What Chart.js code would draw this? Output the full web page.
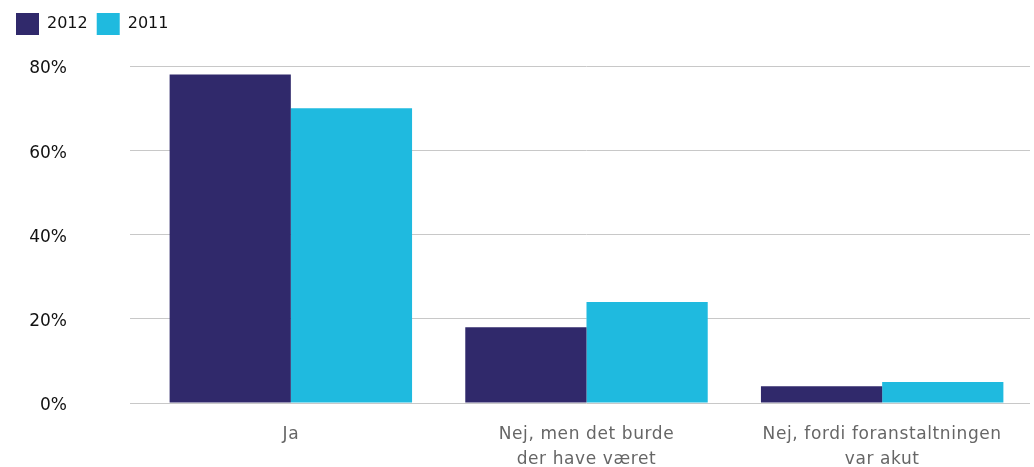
<!DOCTYPE html>
<html>
<head>
<meta charset="utf-8">
<script src="https://cdn.jsdelivr.net/npm/chart.js@4/dist/chart.umd.min.js"></script>
<style>
  html, body { margin: 0; padding: 0; background: #fff; }
  #wrap { width: 1034px; height: 467px; position: relative; }
</style>
</head>
<body>
<div id="wrap"><canvas id="chart"></canvas></div>
<script>
// Categories and series (percent)
const categories = [
    'Ja',
    ['Nej, men det burde', 'der have været'],
    ['Nej, fordi foranstaltningen', 'var akut']
];
const values2012 = [78, 18, 4];
const values2011 = [70, 24, 5];
const yTicks = [0, 20, 40, 60, 80];

const FONT = '"DejaVu Sans", "Noto Sans", sans-serif';

// Push the plot down below the legend
const legendSpacer = {
    id: 'legendSpacer',
    beforeInit(chart) {
        const fit = chart.legend.fit;
        chart.legend.fit = function () {
            fit.bind(chart.legend)();
            this.height += 21;
        };
    }
};

// A little extra tracking on the category labels
const spacedLabels = {
    id: 'spacedLabels',
    beforeDraw(chart) {
        const x = chart.scales.x;
        if (x._spaced) return;
        const orig = x.drawLabels;
        x.drawLabels = function (area) {
            const ctx = this.ctx;
            ctx.save();
            ctx.letterSpacing = '0.6px';
            orig.call(this, area);
            ctx.restore();
        };
        x._spaced = true;
    }
};

new Chart(document.getElementById('chart'), {
    type: 'bar',
    data: {
        labels: categories,
        datasets: [
            {
                label: '2012',
                data: values2012,
                backgroundColor: '#30296b',
                categoryPercentage: 0.82,
                barPercentage: 1
            },
            {
                label: '2011',
                data: values2011,
                backgroundColor: '#1fbadf',
                categoryPercentage: 0.82,
                barPercentage: 1
            }
        ]
    },
    options: {
        responsive: true,
        maintainAspectRatio: false,
        animation: false,
        layout: { padding: { left: 7, right: 4, top: 4, bottom: 0 } },
        plugins: {
            legend: {
                position: 'top',
                align: 'start',
                labels: {
                    boxWidth: 23,
                    boxHeight: 22,
                    padding: 9,
                    color: '#111',
                    font: { family: FONT, size: 16 }
                }
            },
            tooltip: { enabled: false }
        },
        scales: {
            x: {
                afterFit(scale) { scale.height = 64; },
                grid: { display: false, drawTicks: false },
                border: { display: false },
                ticks: {
                    color: '#666',
                    padding: 19,
                    maxRotation: 0,
                    font: { family: FONT, size: 17, lineHeight: 1.47 }
                }
            },
            y: {
                min: 0,
                max: 80,
                afterFit(scale) {
                    scale.width = 136;
                    scale.paddingTop = 0;
                    scale.paddingBottom = 0;
                },
                afterBuildTicks(scale) { scale.ticks = yTicks.map(v => ({ value: v })); },
                grid: { color: '#c8c8c8', lineWidth: 1, tickLength: 13, tickColor: '#c8c8c8' },
                border: { display: false },
                ticks: {
                    color: '#111',
                    padding: 63,
                    labelOffset: 3,
                    font: { family: FONT, size: 17 },
                    callback: v => v + '%'
                }
            }
        }
    },
    plugins: [legendSpacer, spacedLabels]
});
</script>
</body>
</html>
